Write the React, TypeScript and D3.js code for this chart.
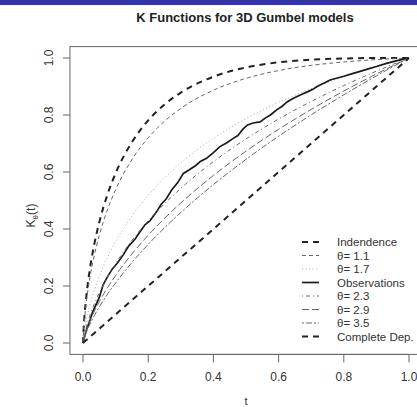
import * as d3 from "d3";

const width = 417;
const height = 407;

// plot region (R style: data range padded by 4%)
const xRange = [83, 409];
const yRange = [343, 58];

const tGrid = [0, 0.002, 0.005, 0.01, 0.02, 0.035, 0.05, 0.075, 0.1, 0.15, 0.2, 0.25, 0.3, 0.4, 0.5, 0.6, 0.7, 0.8, 0.9, 1];

const kIndep = [0, 0.0531, 0.1017, 0.1621, 0.2513, 0.349, 0.4241, 0.5209, 0.5954, 0.7045, 0.7809, 0.8368, 0.8787, 0.9344, 0.9667, 0.9848, 0.9942, 0.9984, 0.9999, 1];
const kTheta11 = [0, 0.0457, 0.0882, 0.1414, 0.2208, 0.3091, 0.3778, 0.4676, 0.5379, 0.6435, 0.72, 0.778, 0.8231, 0.8871, 0.9286, 0.956, 0.9741, 0.9861, 0.9943, 1];
const kTheta17 = [0, 0.0242, 0.0481, 0.0794, 0.1285, 0.1863, 0.2339, 0.2999, 0.3551, 0.4453, 0.5179, 0.579, 0.6315, 0.7181, 0.7874, 0.8445, 0.8925, 0.9335, 0.969, 1];
const kTheta23 = [0, 0.0162, 0.033, 0.0557, 0.0926, 0.1376, 0.1759, 0.2309, 0.2785, 0.3597, 0.4285, 0.4887, 0.5426, 0.6362, 0.716, 0.7858, 0.8476, 0.9033, 0.9538, 1];
const kTheta29 = [0, 0.0123, 0.0255, 0.0437, 0.074, 0.1121, 0.1452, 0.1939, 0.2369, 0.3124, 0.3782, 0.4372, 0.4912, 0.5878, 0.673, 0.7496, 0.8196, 0.8841, 0.9441, 1];
const kTheta35 = [0, 0.01, 0.021, 0.0365, 0.0628, 0.0966, 0.1264, 0.1709, 0.2109, 0.2824, 0.346, 0.404, 0.4578, 0.5558, 0.6442, 0.7253, 0.8005, 0.8708, 0.9373, 1];
const kComplete = [0, 0.002, 0.005, 0.01, 0.02, 0.035, 0.05, 0.075, 0.1, 0.15, 0.2, 0.25, 0.3, 0.4, 0.5, 0.6, 0.7, 0.8, 0.9, 1];

const obsT = [0, 0.01, 0.02, 0.03, 0.04, 0.05, 0.062, 0.075, 0.09, 0.105, 0.124, 0.14, 0.16, 0.175, 0.19, 0.205, 0.226, 0.24, 0.255, 0.272, 0.29, 0.308, 0.325, 0.345, 0.36, 0.379, 0.4, 0.42, 0.44, 0.461, 0.475, 0.48, 0.492, 0.505, 0.522, 0.543, 0.56, 0.575, 0.594, 0.61, 0.625, 0.64, 0.655, 0.67, 0.69, 0.705, 0.717, 0.727, 0.74, 0.758, 0.78, 0.8, 0.829, 0.85, 0.875, 0.9, 0.931, 0.96, 0.98, 1];
const obsK = [0, 0.045, 0.075, 0.11, 0.135, 0.16, 0.205, 0.232, 0.26, 0.28, 0.31, 0.34, 0.365, 0.39, 0.415, 0.428, 0.461, 0.487, 0.505, 0.537, 0.562, 0.595, 0.607, 0.622, 0.637, 0.648, 0.668, 0.689, 0.702, 0.718, 0.728, 0.735, 0.752, 0.765, 0.772, 0.776, 0.79, 0.8, 0.818, 0.83, 0.845, 0.855, 0.864, 0.872, 0.882, 0.89, 0.899, 0.905, 0.912, 0.923, 0.93, 0.936, 0.946, 0.953, 0.962, 0.97, 0.981, 0.99, 0.995, 1];

const tickValues = [0, 0.2, 0.4, 0.6, 0.8, 1];
const tickLabels = ["0.0", "0.2", "0.4", "0.6", "0.8", "1.0"];

const legendLabels = ["Indendence", "θ= 1.1", "θ= 1.7", "Observations", "θ= 2.3", "θ= 2.9", "θ= 3.5", "Complete Dep."];

const styles = [
  { stroke: "#222", width: 2, dash: "6,5" },
  { stroke: "#666", width: 1, dash: "4,3" },
  { stroke: "#aaa", width: 1, dash: "1,2.5" },
  { stroke: "#1a1a1a", width: 1.7, dash: null },
  { stroke: "#666", width: 1, dash: "1,3,4,3" },
  { stroke: "#666", width: 1, dash: "7,3" },
  { stroke: "#666", width: 1, dash: "2,2,6,2" },
  { stroke: "#222", width: 2, dash: "6,5" },
];

const font = "Liberation Sans, Arial, Helvetica, sans-serif";

const App = () => {
  const xScale = d3.scaleLinear().domain([0, 1]).range(xRange);
  const yScale = d3.scaleLinear().domain([0, 1]).range(yRange);

  // box extends 4% beyond the data range, like R
  const boxLeft = xScale(-0.04);
  const boxRight = xScale(1.04);
  const boxTop = yScale(1.04);
  const boxBottom = yScale(-0.04);

  const smooth = d3
    .line<number>()
    .x((_, i) => xScale(tGrid[i]))
    .y((d) => yScale(d))
    .curve(d3.curveMonotoneX);

  const jagged = d3
    .line<number>()
    .x((_, i) => xScale(obsT[i]))
    .y((d) => yScale(d));

  const series = [
    smooth(kIndep),
    smooth(kTheta11),
    smooth(kTheta17),
    jagged(obsK),
    smooth(kTheta23),
    smooth(kTheta29),
    smooth(kTheta35),
    smooth(kComplete),
  ];

  const legendX = 302;
  const legendY = 242;
  const legendStep = 13.5;

  return (
    <svg
      width={width}
      height={height}
      viewBox={`0 0 ${width} ${height}`}
      style={{ position: "absolute", left: 0, top: 0, background: "#fff" }}
      fontFamily={font}
    >
      <rect x={0} y={0} width={width} height={5} fill="#3333aa" />
      <text x={245} y={22} textAnchor="middle" fontSize={13} fontWeight="bold" fill="#222">
        K Functions for 3D Gumbel models
      </text>

      <defs>
        <clipPath id="plot-clip">
          <rect x={boxLeft} y={boxTop} width={boxRight - boxLeft} height={boxBottom - boxTop} />
        </clipPath>
      </defs>

      <g clipPath="url(#plot-clip)">
        {series.map((d, i) => (
          <path
            key={i}
            d={d ?? ""}
            fill="none"
            stroke={styles[i].stroke}
            strokeWidth={styles[i].width}
            strokeDasharray={styles[i].dash ?? undefined}
          />
        ))}
      </g>

      <rect
        x={boxLeft}
        y={boxTop}
        width={boxRight - boxLeft}
        height={boxBottom - boxTop}
        fill="none"
        stroke="#666"
        strokeWidth={1}
      />

      {/* x axis */}
      <g>
        <line x1={xScale(0)} x2={xScale(1)} y1={boxBottom} y2={boxBottom} stroke="#666" />
        {tickValues.map((v, i) => (
          <g key={v}>
            <line x1={xScale(v)} x2={xScale(v)} y1={boxBottom} y2={boxBottom + 8} stroke="#666" />
            <text x={xScale(v)} y={381} textAnchor="middle" fontSize={12} fill="#333">
              {tickLabels[i]}
            </text>
          </g>
        ))}
        <text x={(xScale(0) + xScale(1)) / 2} y={405} textAnchor="middle" fontSize={11} fill="#333">
          t
        </text>
      </g>

      {/* y axis */}
      <g>
        {tickValues.map((v, i) => (
          <g key={v}>
            <line x1={boxLeft - 7} x2={boxLeft} y1={yScale(v)} y2={yScale(v)} stroke="#666" />
            <text
              transform={`translate(${boxLeft - 17},${yScale(v)}) rotate(-90)`}
              textAnchor="middle"
              fontSize={12}
              fill="#333"
            >
              {tickLabels[i]}
            </text>
          </g>
        ))}
        <text
          transform={`translate(35,${(yScale(0) + yScale(1)) / 2 + 15}) rotate(-90)`}
          textAnchor="middle"
          fontSize={12}
          fill="#333"
        >
          K
          <tspan fontSize={8} dy={3}>θ</tspan>
          <tspan dy={-3}>(t)</tspan>
        </text>
      </g>

      {/* legend */}
      <g>
        {legendLabels.map((label, i) => (
          <g key={label} transform={`translate(${legendX},${legendY + i * legendStep})`}>
            <line
              x1={0}
              x2={17}
              y1={0}
              y2={0}
              stroke={styles[i].stroke}
              strokeWidth={styles[i].width}
              strokeDasharray={styles[i].dash ?? undefined}
            />
            <text x={35} y={4} fontSize={11.5} fill="#333">
              {label}
            </text>
          </g>
        ))}
      </g>
    </svg>
  );
};

export default App;
